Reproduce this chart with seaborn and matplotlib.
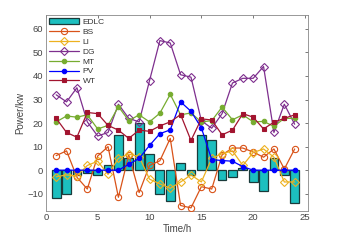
import numpy as np
import pandas as pd
import matplotlib
matplotlib.use("Agg")
import matplotlib.pyplot as plt
import matplotlib.patches as mpatches
from matplotlib.lines import Line2D
import seaborn as sns

hours = list(range(1, 25))
edlc = [-12, -10, -2, -1, -2, 2, 15, 5, 20, 7, -10, -13, 3, -2, 15, 13, -4, -3, 1, -5, -9, 5, -2, -14]
bs = [6.2, 8.2, -3, -8, 6, 10, -11.5, 6.5, -9.5, 2, 4, 13.5, -15, -16, -7, -8, 6.5, 9.4, 9.4, 7.7, 5.5, 9, 0.5, 9]
li = [-2.8, -2, -2.5, 2, 3.8, -1.8, 5, 6.8, 5.8, -3.8, -5.8, -7.7, -5, -2, -5, 5, 7, 8.2, 2, 7.5, 9, 5.5, -5, -5]
dg = [32, 29, 35, 20.5, 14.5, 16, 28, 22, 20.5, 38, 55, 54, 40.5, 39.5, 21, 17.8, 24, 37, 39, 39, 44, 16, 28, 19.5]
mt = [20.5, 23, 22.5, 23.5, 17.5, 19, 27, 21, 23.5, 20.5, 24.2, 32.2, 23.5, 24.3, 20.5, 21, 26.8, 21.4, 23.5, 20.5, 20.7, 18.6, 22, 22]
pv = [0, 0, 0, 0, 0, 0, 0, 2.5, 5, 10.5, 15.5, 17.1, 29, 25, 18, 4.5, 4.1, 3.8, 1.5, 0, 0, 0, 0, 0]
wt = [22, 16, 14, 24.5, 24, 19, 17, 13.5, 17, 16.5, 18.8, 20.5, 23.6, 12.6, 21.8, 21.3, 15, 17, 24, 22.5, 17.5, 20.4, 22, 23.5]

sns.set_style("white")
plt.rcParams['font.family'] = ['Liberation Sans', 'DejaVu Sans']

fig = plt.figure(figsize=(3.42, 2.45), dpi=100)
ax = fig.add_axes([0.134, 0.14, 0.767, 0.80])

bar_color = "#1cbfbf"
sns.barplot(x=hours, y=edlc, native_scale=True, width=0.85, color=bar_color,
            saturation=1, edgecolor="#1a3a3a", linewidth=0.9, ax=ax, zorder=2)

series = [
    ("BS", bs, "#D95319", "o", "none"),
    ("LI", li, "#EDB120", "D", "none"),
    ("DG", dg, "#7E2F8E", "D", "none"),
    ("MT", mt, "#77AC30", "o", "#77AC30"),
    ("PV", pv, "#0000FF", "o", "#0000FF"),
    ("WT", wt, "#A2142F", "s", "#A2142F"),
]
handles = [mpatches.Patch(facecolor=bar_color, edgecolor="#1a3a3a", linewidth=0.9, label="EDLC")]
for name, vals, col, mk, mfc in series:
    ms = 4.5 if mfc == "none" else 3.2
    if mk == "D" and mfc == "none":
        ms = 3.8
    sns.lineplot(x=hours, y=vals, ax=ax, color=col, marker=mk, markersize=ms,
                 markerfacecolor=mfc, markeredgecolor=col, markeredgewidth=0.8,
                 linewidth=0.9, zorder=3, legend=False)
    handles.append(Line2D([0], [0], color=col, marker=mk, markersize=ms,
                          markerfacecolor=mfc, markeredgecolor=col,
                          markeredgewidth=0.8, linewidth=0.9, label=name))

ax.set_xlim(0, 25.3)
ax.set_ylim(-17.2, 66)
ax.set_xticks([0, 5, 10, 15, 20, 25])
ax.set_yticks([-10, 0, 10, 20, 30, 40, 50, 60])
ax.tick_params(direction="in", length=2.5, width=0.5, labelsize=6.8,
               colors="#444444", top=True, right=True, pad=2)
for s in ax.spines.values():
    s.set_color("#888888")
    s.set_linewidth(0.6)
    s.set_visible(True)

ax.set_xlabel("Time/h", fontsize=7, color="#444444", labelpad=1)
ax.set_ylabel("Power/kw", fontsize=7, color="#444444", labelpad=1)

leg = ax.legend(handles=handles, loc="upper left", fontsize=6, frameon=False,
                handlelength=3.6, handletextpad=0.4, labelspacing=0.25,
                borderaxespad=0.2, borderpad=0.2)
for t in leg.get_texts():
    t.set_color("#333333")

fig.savefig("out.png", dpi=100)
